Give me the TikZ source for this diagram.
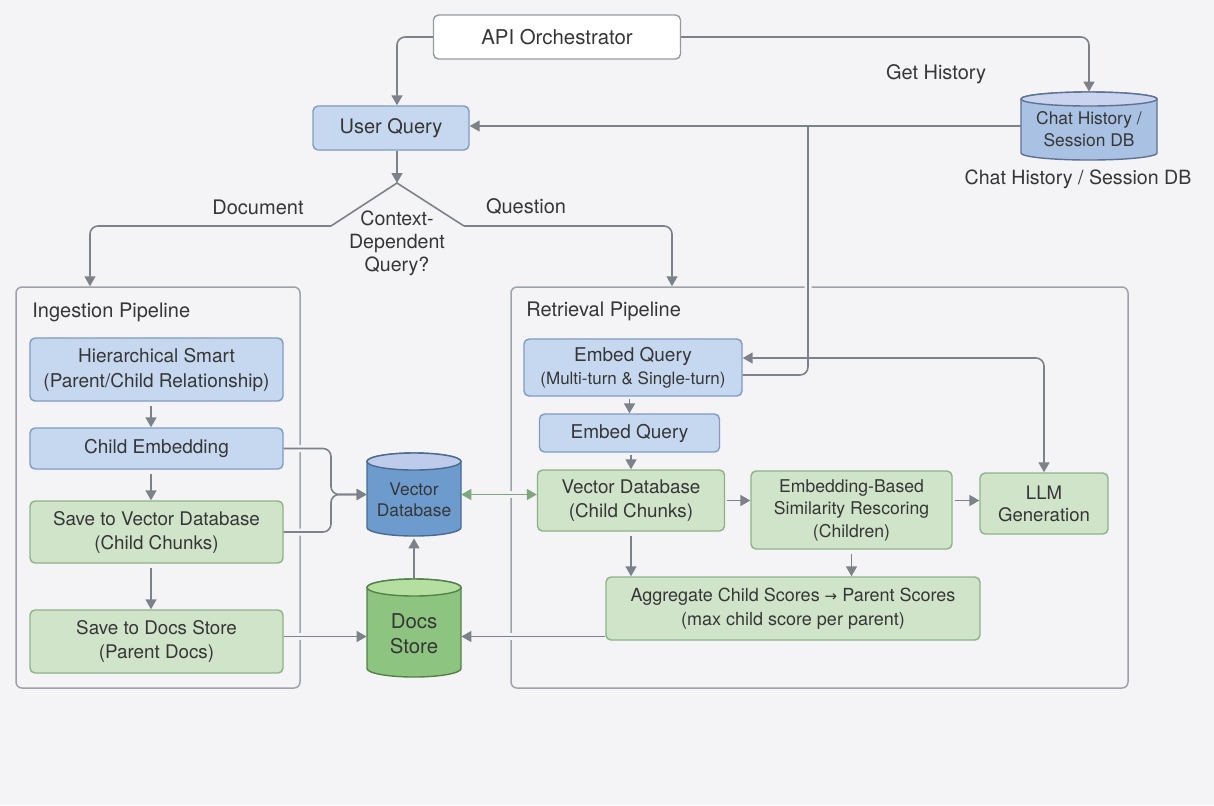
\documentclass[tikz,border=0pt]{standalone}
\usepackage{fontspec}
\setmainfont{TeX Gyre Heros}
\newfontfamily\djv{DejaVu Sans}
\usetikzlibrary{arrows.meta}
\definecolor{bg}{HTML}{F4F4F6}
\definecolor{ln}{HTML}{7C818A}
\definecolor{txt}{HTML}{363636}
\definecolor{bfill}{HTML}{C6D8EF}
\definecolor{bdraw}{HTML}{7F9BC6}
\definecolor{gfill}{HTML}{D0E4CA}
\definecolor{gdraw}{HTML}{8EB287}
\definecolor{cont}{HTML}{9EA2A9}
\definecolor{vdbbody}{HTML}{6D9BCD}
\definecolor{vdbtop}{HTML}{BFCBEA}
\definecolor{vdbline}{HTML}{4A6A90}
\definecolor{dsbody}{HTML}{8DC580}
\definecolor{dstop}{HTML}{B4DFA0}
\definecolor{dsline}{HTML}{52814A}
\definecolor{chbody}{HTML}{A9C1E2}
\definecolor{chtop}{HTML}{CAD4EF}
\definecolor{chline}{HTML}{5E7194}
\definecolor{grn}{HTML}{7FA77C}
\newcommand\cylshape[8]{%
  \filldraw[fill=#6,draw=#8,line width=0.7pt] (#1,#2+#5) -- (#1,#4-#5)
    arc[start angle=180,end angle=0,x radius={(#3-#1)/2},y radius=#5] -- (#3,#2+#5)
    arc[start angle=0,end angle=-180,x radius={(#3-#1)/2},y radius=#5] -- cycle;
  \filldraw[fill=#7,draw=#8,line width=0.7pt] ({(#1+#3)/2},#2+#5) ellipse[x radius={(#3-#1)/2},y radius=#5];
}
\tikzset{
  >={Triangle[length=5pt,width=5.5pt]},
  every node/.style={text=txt},
  box/.style={rectangle, rounded corners=2.5pt, line width=0.7pt, align=center, inner sep=0pt, font=\fontsize{9.5}{12.5}\selectfont},
  bbox/.style={box, fill=bfill, draw=bdraw},
  gbox/.style={box, fill=gfill, draw=gdraw},
  contbox/.style={rectangle, rounded corners=3pt, draw=cont, line width=0.75pt},
  conn/.style={draw=ln, line width=0.8pt},
  arr/.style={conn, ->},
  rc/.style={rounded corners=4pt},
  lbl/.style={font=\fontsize{10}{12}\selectfont, inner sep=0pt},
  gap/.style={draw=bg, line width=3.5pt, shorten <=4pt, shorten >=4pt},
  anchorbox/.style={rectangle, inner sep=0pt, draw=none}
}
\begin{document}
\begin{tikzpicture}[x=0.5pt,y=-0.5pt]
\fill[bg] (0,0) rectangle (1214,805);
\useasboundingbox (0,0) rectangle (1214,805);

% containers
\node[contbox, minimum width=142pt, minimum height=200.5pt] (ing) at (158,487.5) {};
\node[contbox, minimum width=308.5pt, minimum height=200.5pt] (ret) at (819.5,487.5) {};
\node[lbl, anchor=west] (ingt) at (32,312) {Ingestion Pipeline};
\node[lbl, anchor=west] (rett) at (526,311) {Retrieval Pipeline};

% top nodes
\node[box, fill=white, draw=ln!80, font=\fontsize{10.2}{12}\selectfont, minimum width=123.5pt, minimum height=22pt] (api) at (557,37) {API Orchestrator};
\node[bbox, font=\fontsize{10}{12}\selectfont, minimum width=78pt, minimum height=22pt] (uq) at (391,128) {User Query};
\node[lbl, align=center, font=\fontsize{9.8}{11.5}\selectfont] (dec) at (397,243) {Context-\\Dependent\\Query?};
\coordinate (dtop) at (397,183);
\coordinate (dl) at (331,226);
\coordinate (dr) at (464,226);
\node[lbl] (ldoc) at (258,207) {Document};
\node[lbl] (lq) at (526,207) {Question};
\node[lbl] (lgh) at (936,74) {Get History};

% chat db
\cylshape{1021}{92}{1157}{160}{7}{chbody}{chtop}{chline}
\node[anchorbox, minimum width=68pt, minimum height=34pt] (chat) at (1089,126) {};
\node[lbl, align=center, font=\fontsize{8.7}{11}\selectfont] (chatt) at (1089,129) {Chat History /\\Session DB};
\node[lbl, font=\fontsize{9.8}{12}\selectfont] (chatl) at (1078,179) {Chat History / Session DB};

% ingestion boxes
\node[bbox, minimum width=126.5pt, minimum height=31.5pt] (hs) at (156.5,369.5) {Hierarchical Smart\\(Parent/Child Relationship)};
\node[bbox, minimum width=126.5pt, minimum height=20.5pt] (ce) at (156.5,448.5) {Child Embedding};
\node[gbox, minimum width=126.5pt, minimum height=31pt, font=\fontsize{9.4}{12}\selectfont] (sv) at (156.5,532) {Save to Vector Database\\(Child Chunks)};
\node[gbox, minimum width=126.5pt, minimum height=31.5pt, font=\fontsize{9.4}{12}\selectfont] (sd) at (156.5,641.5) {Save to Docs Store\\(Parent Docs)};

% stores
\cylshape{367}{453}{461}{536}{8.5}{vdbbody}{vdbtop}{vdbline}
\node[anchorbox, minimum width=47pt, minimum height=41.5pt] (vdb) at (414,494.5) {};
\node[lbl, align=center, font=\fontsize{8.7}{10.5}\selectfont] (vdbt) at (414,500) {Vector\\Database};
\cylshape{367}{579}{461}{677}{8.5}{dsbody}{dstop}{dsline}
\node[anchorbox, minimum width=47pt, minimum height=49pt] (ds) at (414,628) {};
\node[lbl, align=center, font=\fontsize{10.2}{12.5}\selectfont] (dst) at (414,634) {Docs\\Store};

% retrieval boxes
\node[bbox, minimum width=109pt, minimum height=28.5pt] (eq1) at (633,367.5) {Embed Query\\[-1pt]{\fontsize{8.5}{10}\selectfont (Multi-turn \& Single-turn)}};
\node[bbox, minimum width=90pt, minimum height=19pt] (eq2) at (629.5,433) {Embed Query};
\node[gbox, minimum width=93.5pt, minimum height=30.5pt, font=\fontsize{9.4}{12}\selectfont] (vdbc) at (631,500.5) {Vector Database\\(Child Chunks)};
\node[gbox, minimum width=100.5pt, minimum height=39pt, font=\fontsize{8.8}{11.25}\selectfont] (resc) at (851.5,510) {Embedding-Based\\Similarity Rescoring\\(Children)};
\node[gbox, minimum width=64pt, minimum height=30.5pt, font=\fontsize{9.3}{11}\selectfont] (llm) at (1044,503.5) {LLM\\Generation};
\node[gbox, minimum width=187pt, minimum height=31.5pt, font=\fontsize{9}{12}\selectfont] (agg) at (793,608.5) {Aggregate Child Scores {\djv\fontsize{7.5}{9}\selectfont →} Parent Scores\\(max child score per parent)};

% junction coordinates
\coordinate (jx) at (331,494.5);
\coordinate (bx) at (808,0);

% gaps where connectors cross container borders
\path[gap, rc] (ce.east) -| (jx) -- (vdb.west);
\path[gap, rc] (sv.east) -| (jx);
\path[gap] ([yshift=2.5pt]sd.east) -- ([yshift=2.5pt]sd.east -| ds.west);
\path[gap] (vdb.east) -- (vdb.east -| vdbc.west);
\path[gap] ([yshift=-14pt]agg.west) -- ([yshift=-14pt]agg.west -| ds.east);
\path[gap, rc] ([yshift=-3.75pt]eq1.east) -| (bx |- chat.west);

% connectors: top
\draw[arr, rc] (api.west) -| ([xshift=3pt]uq.north);
\draw[arr, rc] (api.east) -| (chat.north);
\draw[arr] ([xshift=3pt]uq.south) -- (dtop);
\draw[conn] (dl) -- (dtop) -- (dr);
\draw[arr, rc] (dl) -| ([xshift=-34pt]ing.north);
\draw[arr, rc] (dr) -| ([xshift=-73.75pt]ret.north);
\draw[conn, rc] ([yshift=-3.75pt]eq1.east) -| (bx |- chat.west);
\draw[arr] (chat.west) -- (chat.west -| uq.east);

% ingestion connectors
\draw[arr, shorten <=2pt] ([xshift=-2.75pt]hs.south) -- ([xshift=-2.75pt]hs.south |- ce.north);
\draw[arr, shorten <=2pt] ([xshift=-2.75pt]ce.south) -- ([xshift=-2.75pt]ce.south |- sv.north);
\draw[arr, shorten <=2pt] ([xshift=-2.75pt]sv.south) -- ([xshift=-2.75pt]sv.south |- sd.north);
\draw[arr, rc] (ce.east) -| (jx) -- (vdb.west);
\draw[arr, rc] (sv.east) -| (jx) -- (vdb.west);
\draw[arr] ([yshift=2.5pt]sd.east) -- ([yshift=2.5pt]sd.east -| ds.west);
\draw[arr, shorten >=1pt] (ds.north) -- (vdb.south);

% retrieval connectors
\draw[conn, <->, draw=grn] (vdb.east) -- (vdb.east -| vdbc.west);
\draw[arr] ([yshift=-14pt]agg.west) -- ([yshift=-14pt]agg.west -| ds.east);
\draw[arr, shorten <=1pt] (eq1.south -| eq2.north) -- (eq2.north);
\draw[arr, shorten <=1pt] (eq2.south -| vdbc.north) -- (vdbc.north);
\draw[arr, shorten <=1pt] (vdbc.east) -- (vdbc.east -| resc.west);
\draw[arr, shorten <=1pt] (resc.east |- vdbc.east) -- (llm.west |- vdbc.east);
\draw[arr, shorten <=2pt] (vdbc.south) -- (vdbc.south |- agg.north);
\draw[arr, shorten <=2pt] (resc.south) -- (resc.south |- agg.north);
\draw[conn, <->, rc] ([yshift=4.75pt]eq1.east) -| (llm.north);
\end{tikzpicture}
\end{document}
